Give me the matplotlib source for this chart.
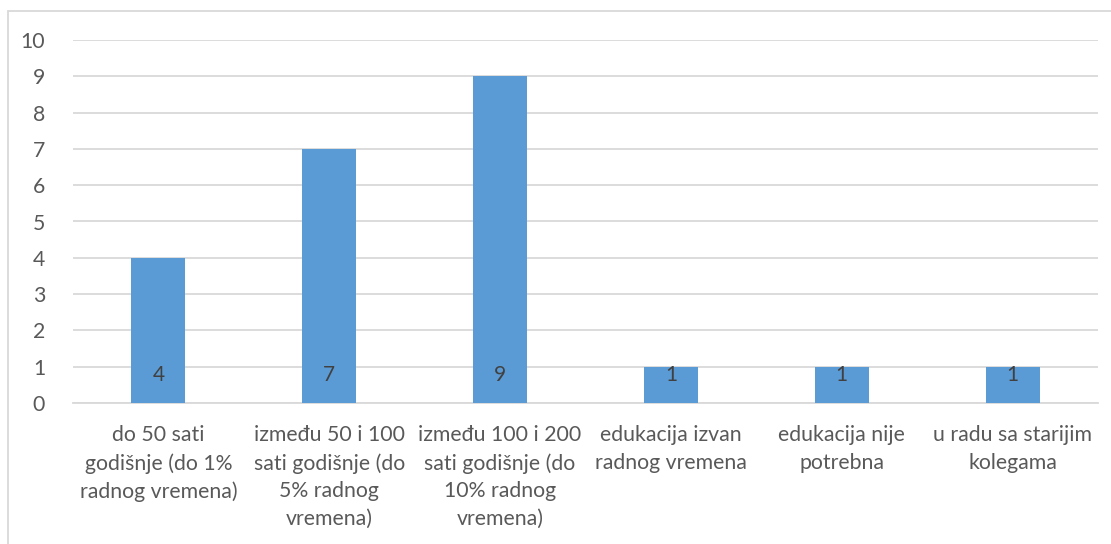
import numpy as np
import matplotlib.pyplot as plt
from matplotlib.patches import Rectangle

CATEGORIES = [
    "do 50 sati\ngodišnje (do 1%\nradnog vremena)",
    "između 50 i 100\nsati godišnje (do\n5% radnog\nvremena)",
    "između 100 i 200\nsati godišnje (do\n10% radnog\nvremena)",
    "edukacija izvan\nradnog vremena",
    "edukacija nije\npotrebna",
    "u radu sa starijim\nkolegama",
]
VALUES = [4, 7, 9, 1, 1, 1]
Y_TICKS = list(range(0, 11))

BAR_COLOR = "#5B9BD5"
TEXT_COLOR = "#595959"
GRID_COLOR = "#D9D9D9"

plt.rcParams["font.family"] = ["Lato", "DejaVu Sans"]

fig = plt.figure(figsize=(11.11, 5.44), dpi=100)
ax = fig.add_axes([73 / 1111, 1 - 403 / 544, (1098 - 73) / 1111, (403 - 40) / 544])

x = np.arange(len(CATEGORIES))
bars = ax.bar(x, VALUES, width=0.316, color=BAR_COLOR, zorder=3)

# value labels sit just above the base of each bar
for xi, v in zip(x, VALUES):
    ax.annotate(str(v), (xi, 0), xytext=(0, 28), textcoords="offset pixels",
                ha="center", va="center", fontsize=15, color="#404040", zorder=4)

ax.set_xlim(-0.5, len(CATEGORIES) - 0.5)
ax.set_ylim(0, 10)
ax.set_yticks(Y_TICKS)
ax.set_xticks(x)
ax.set_xticklabels(CATEGORIES, linespacing=1.48)
ax.tick_params(axis="both", length=0, labelsize=15.3, colors=TEXT_COLOR)
ax.tick_params(axis="y", pad=20)
ax.tick_params(axis="x", pad=16)
ax.grid(axis="y", color=GRID_COLOR, linewidth=1.3, zorder=0)
for side in ["top", "right", "left"]:
    ax.spines[side].set_visible(False)
ax.spines["bottom"].set_color(GRID_COLOR)
ax.spines["bottom"].set_linewidth(1.3)

# chart-area border (top and left edges visible in the crop)
fig.patches.append(Rectangle((8 / 1111, -0.1), 1.2, 1 - 11 / 544 + 0.1,
                             transform=fig.transFigure, fill=False,
                             edgecolor=GRID_COLOR, linewidth=1.3))

fig.savefig("out.png", dpi=100)
